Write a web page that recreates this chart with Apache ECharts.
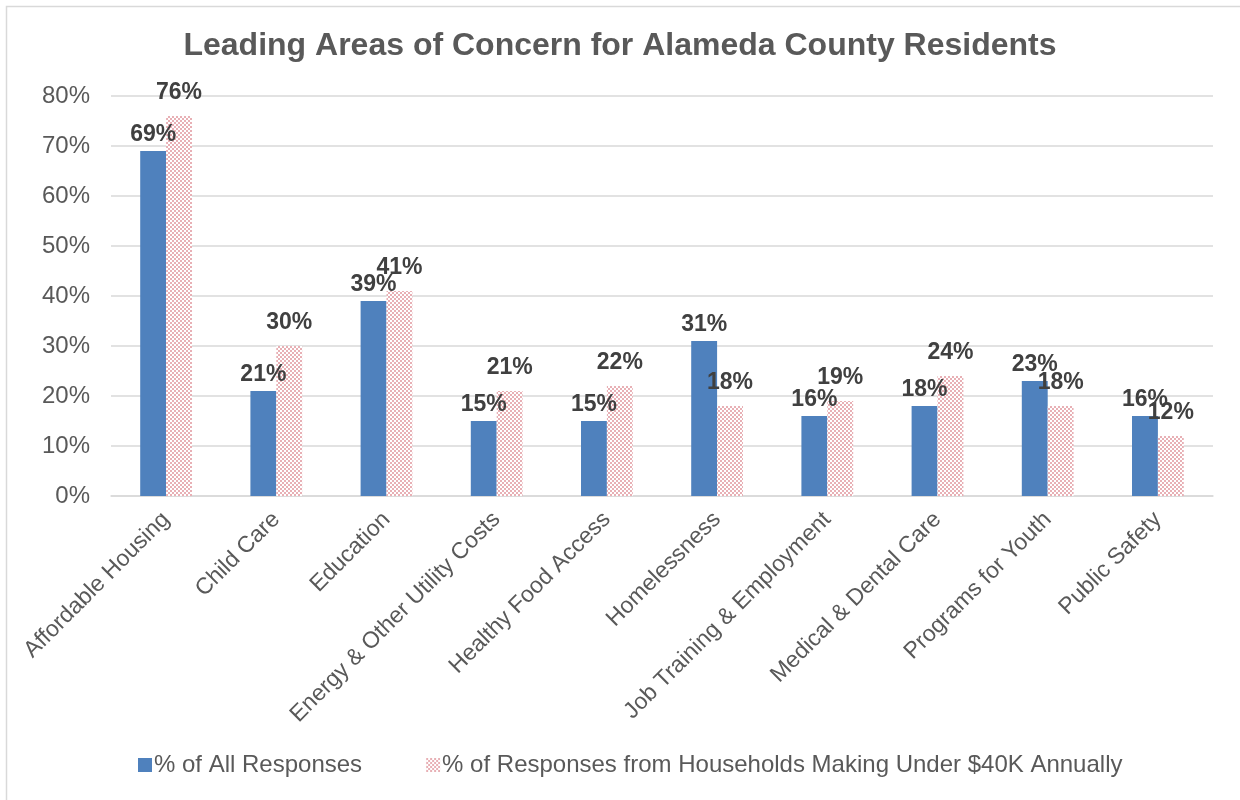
<!DOCTYPE html>
<html>
<head>
<meta charset="utf-8">
<script src="https://cdn.jsdelivr.net/npm/echarts@6/dist/echarts.min.js"></script>
<style>
html,body{margin:0;padding:0;background:#fff;}
#chart{width:1240px;height:800px;}
</style>
</head>
<body>
<div id="chart"></div>
<script>
// Survey data: share of residents naming each area as a leading concern
const categories = [
  'Affordable Housing', 'Child Care', 'Education', 'Energy & Other Utility Costs',
  'Healthy Food Access', 'Homelessness', 'Job Training & Employment',
  'Medical & Dental Care', 'Programs for Youth', 'Public Safety'
];
const allResponses = [69, 21, 39, 15, 15, 31, 16, 18, 23, 16];
const under40k = [76, 30, 41, 21, 22, 18, 19, 24, 18, 12];
const yTicks = [0, 10, 20, 30, 40, 50, 60, 70, 80];

const FONT = 'Liberation Sans, Arial, sans-serif';

// small checkerboard fill for the second series
function checkerPattern() {
  const c = document.createElement('canvas');
  c.width = 4; c.height = 4;
  const ctx = c.getContext('2d');
  ctx.fillStyle = '#ffffff';
  ctx.fillRect(0, 0, 4, 4);
  ctx.fillStyle = '#e8b0b5';
  ctx.fillRect(0, 0, 2, 2);
  ctx.fillRect(2, 2, 2, 2);
  return { image: c, repeat: 'repeat' };
}
const pink = checkerPattern();

const chart = echarts.init(document.getElementById('chart'));
chart.setOption({
  animation: false,
  backgroundColor: '#ffffff',
  title: {
    text: 'Leading Areas of Concern for Alameda County Residents',
    left: 'center',
    top: 25,
    textStyle: { fontFamily: FONT, fontSize: 32, fontWeight: 'bold', color: '#595959' }
  },
  graphic: [{
    type: 'rect',
    shape: { x: 6.5, y: 6.5, width: 1260, height: 820 },
    style: { fill: 'none', stroke: '#d9d9d9', lineWidth: 1.5 },
    silent: true
  }],
  legend: {
    bottom: 18,
    left: 133,
    itemWidth: 14,
    itemHeight: 14,
    itemGap: 64,
    textStyle: { fontFamily: FONT, fontSize: 24, color: '#595959', padding: [0, 0, 0, -3] },
    data: [
      { name: '% of All Responses', icon: 'rect' },
      { name: '% of Responses from Households Making Under $40K Annually', icon: 'rect' }
    ]
  },
  grid: { left: 111, right: 27, top: 96, bottom: 304, containLabel: false },
  xAxis: {
    type: 'category',
    data: categories,
    axisTick: { show: false },
    axisLine: { lineStyle: { color: '#d9d9d9', width: 1.5 } },
    axisLabel: {
      rotate: 45, interval: 0, margin: 20,
      fontFamily: FONT, fontSize: 23, color: '#595959'
    }
  },
  yAxis: {
    type: 'value',
    min: yTicks[0],
    max: yTicks[yTicks.length - 1],
    interval: 10,
    axisLine: { show: false },
    axisTick: { show: false },
    splitLine: { lineStyle: { color: '#d9d9d9', width: 1.5 } },
    axisLabel: {
      formatter: v => v + '%', margin: 21,
      fontFamily: FONT, fontSize: 24, color: '#595959'
    }
  },
  series: [
    {
      name: '% of All Responses',
      type: 'bar',
      data: allResponses,
      barGap: '0%',
      barCategoryGap: '53%',
      itemStyle: { color: '#4f81bd' },
      label: {
        show: true, position: 'top', distance: 5,
        formatter: p => p.value + '%',
        fontFamily: FONT, fontSize: 23, fontWeight: 'bold', color: '#404040'
      }
    },
    {
      name: '% of Responses from Households Making Under $40K Annually',
      type: 'bar',
      data: under40k,
      itemStyle: { color: pink },
      label: {
        show: true, position: 'top', distance: 12,
        formatter: p => p.value + '%',
        fontFamily: FONT, fontSize: 23, fontWeight: 'bold', color: '#404040'
      }
    }
  ]
});
</script>
</body>
</html>
